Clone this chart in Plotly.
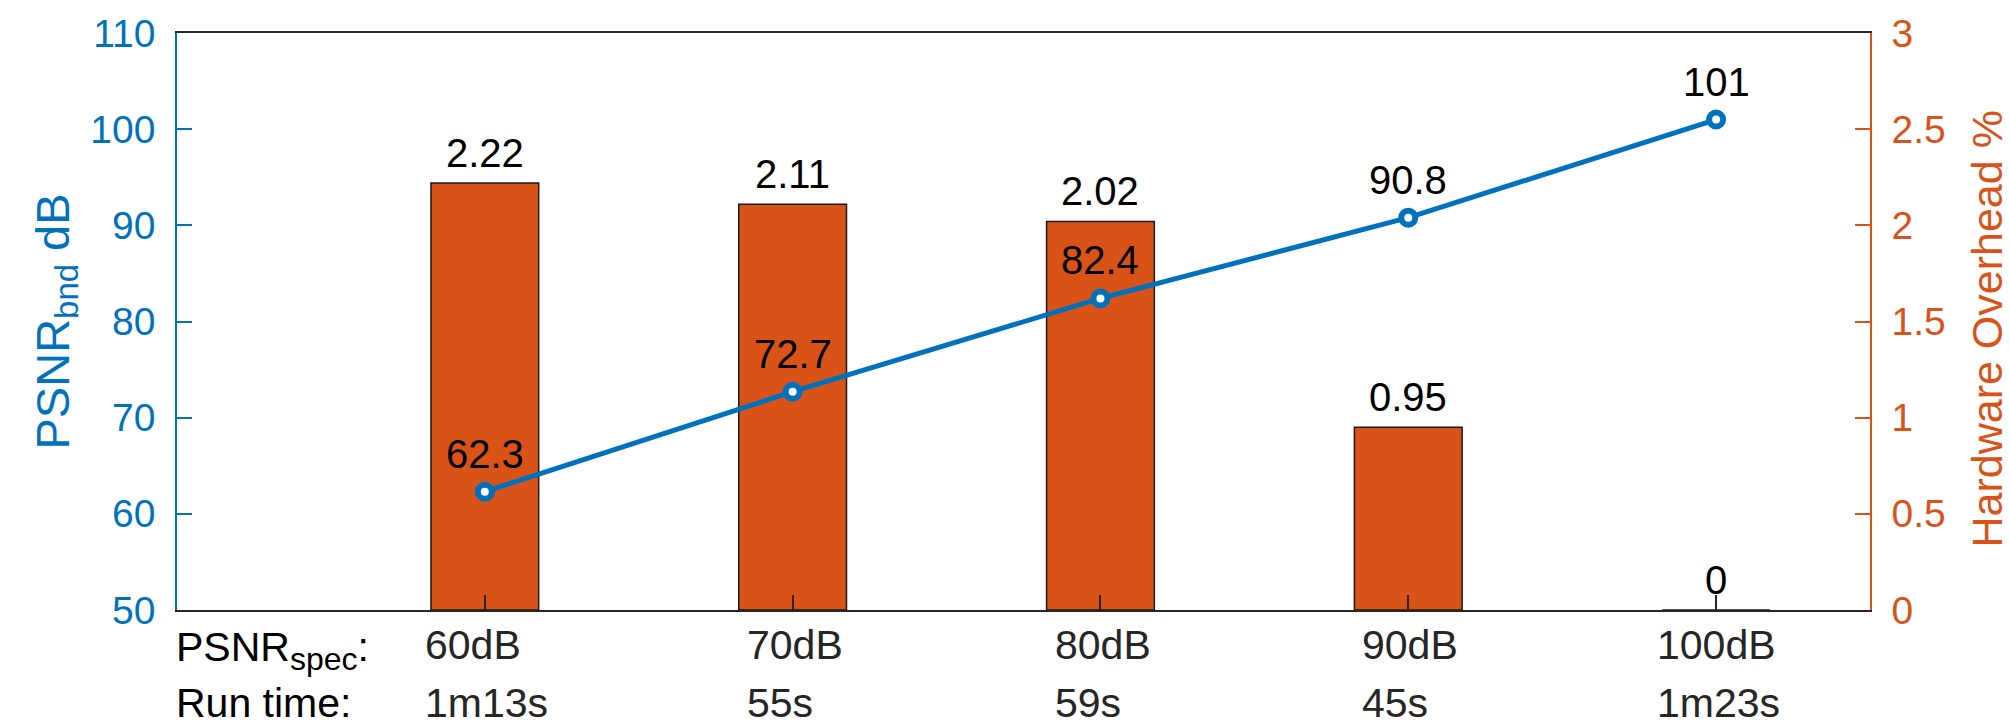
import plotly.graph_objects as go

# PSNR targets, run times and results
spec_labels = ["60dB", "70dB", "80dB", "90dB", "100dB"]
run_times = ["1m13s", "55s", "59s", "45s", "1m23s"]
psnr_bnd = [62.3, 72.7, 82.4, 90.8, 101]
hw_overhead = [2.22, 2.11, 2.02, 0.95, 0]

x_pos = [1, 2, 3, 4, 5]

BLUE = "#0072BD"
ORANGE = "#D95319"
FONT = "Liberation Sans, Arial, Helvetica, sans-serif"
LABEL_SIZE = 41
TICK_SIZE = 39

# Arial advance widths (em) for the characters used in the category labels,
# so each two-line label block can be centred with its lines left-aligned.
ADV = {"d": 0.556, "B": 0.667, "m": 0.833, "s": 0.5}


def text_width(s, size):
    return sum(ADV.get(ch, 0.556) for ch in s) * size


fig = go.Figure()

# bars on the primary (right-hand) axis so the line overlays them
fig.add_trace(go.Bar(
    x=x_pos, y=hw_overhead, yaxis="y",
    width=0.35,
    marker=dict(color=ORANGE, line=dict(color="#1a1a1a", width=1.5)),
    showlegend=False, hoverinfo="skip",
))

fig.add_trace(go.Scatter(
    x=x_pos, y=psnr_bnd, yaxis="y2",
    mode="lines+markers",
    line=dict(color=BLUE, width=5),
    marker=dict(symbol="circle", size=14, color="white",
                line=dict(color=BLUE, width=6)),
    showlegend=False, hoverinfo="skip",
))

annotations = []

# value labels above bars
for xv, v in zip(x_pos, hw_overhead):
    annotations.append(dict(
        x=xv, y=v, xref="x", yref="y", text=f"{v:g}",
        showarrow=False, yanchor="bottom", yshift=6,
        font=dict(family=FONT, size=40, color="black"),
    ))

# value labels above line points
for xv, v in zip(x_pos, psnr_bnd):
    annotations.append(dict(
        x=xv, y=v, xref="x", yref="y2", text=f"{v:g}",
        showarrow=False, yanchor="bottom", yshift=14,
        font=dict(family=FONT, size=40, color="black"),
    ))

# two rows of category labels under the axis
for xv, s, r in zip(x_pos, spec_labels, run_times):
    half = 0.5 * max(text_width(s, LABEL_SIZE), text_width(r, LABEL_SIZE))
    for txt, dy in ((s, -35), (r, -93)):
        annotations.append(dict(
            x=xv, y=0, xref="x", yref="paper", text=txt,
            showarrow=False, xanchor="left", yanchor="middle",
            xshift=-half, yshift=dy,
            font=dict(family=FONT, size=LABEL_SIZE, color="#262626"),
        ))

annotations.append(dict(
    x=0, y=0, xref="paper", yref="paper",
    text='PSNR<sub><span style="font-size:32px">spec</span></sub>:',
    showarrow=False, xanchor="left", yanchor="middle", xshift=-3, yshift=-40,
    font=dict(family=FONT, size=LABEL_SIZE, color="black"),
))
annotations.append(dict(
    x=0, y=0, xref="paper", yref="paper", text="Run time:",
    showarrow=False, xanchor="left", yanchor="middle", xshift=-3, yshift=-93,
    font=dict(family=FONT, size=LABEL_SIZE, color="black"),
))

# axis titles
annotations.append(dict(
    x=0, y=0.5, xref="paper", yref="paper", text="PSNR<sub>bnd</sub> dB",
    showarrow=False, textangle=-90, xanchor="center", yanchor="middle",
    xshift=-122, yshift=0,
    font=dict(family=FONT, size=47, color=BLUE),
))
annotations.append(dict(
    x=1, y=0.5, xref="paper", yref="paper", text="Hardware Overhead %",
    showarrow=False, textangle=-90, xanchor="center", yanchor="middle",
    xshift=116, yshift=-8,
    font=dict(family=FONT, size=43, color=ORANGE),
))

fig.update_layout(
    width=2010, height=726,
    margin=dict(l=177, r=140, t=24, b=116),
    paper_bgcolor="white", plot_bgcolor="white",
    font=dict(family=FONT),
    xaxis=dict(
        range=[0, 5.5], tickvals=x_pos, showticklabels=False,
        ticks="inside", ticklen=15, tickcolor="#262626", tickwidth=1.5,
        showline=True, linecolor="#262626", linewidth=1.5, mirror=True,
        showgrid=False, zeroline=False,
    ),
    yaxis=dict(
        range=[0, 3], dtick=0.5, tick0=0, side="right",
        ticks="inside", ticklen=15, tickcolor=ORANGE, tickwidth=1.5,
        showline=True, linecolor=ORANGE, linewidth=1.5,
        showgrid=False, zeroline=False, ticklabelstandoff=12,
        tickfont=dict(family=FONT, size=TICK_SIZE, color=ORANGE),
    ),
    yaxis2=dict(
        range=[50, 110], dtick=10, tick0=50,
        overlaying="y", side="left",
        ticks="inside", ticklen=15, tickcolor=BLUE, tickwidth=1.5,
        showline=True, linecolor=BLUE, linewidth=1.5,
        showgrid=False, zeroline=False, ticklabelstandoff=12,
        tickfont=dict(family=FONT, size=TICK_SIZE, color=BLUE),
    ),
    annotations=annotations,
)

fig.write_html("out.html")
